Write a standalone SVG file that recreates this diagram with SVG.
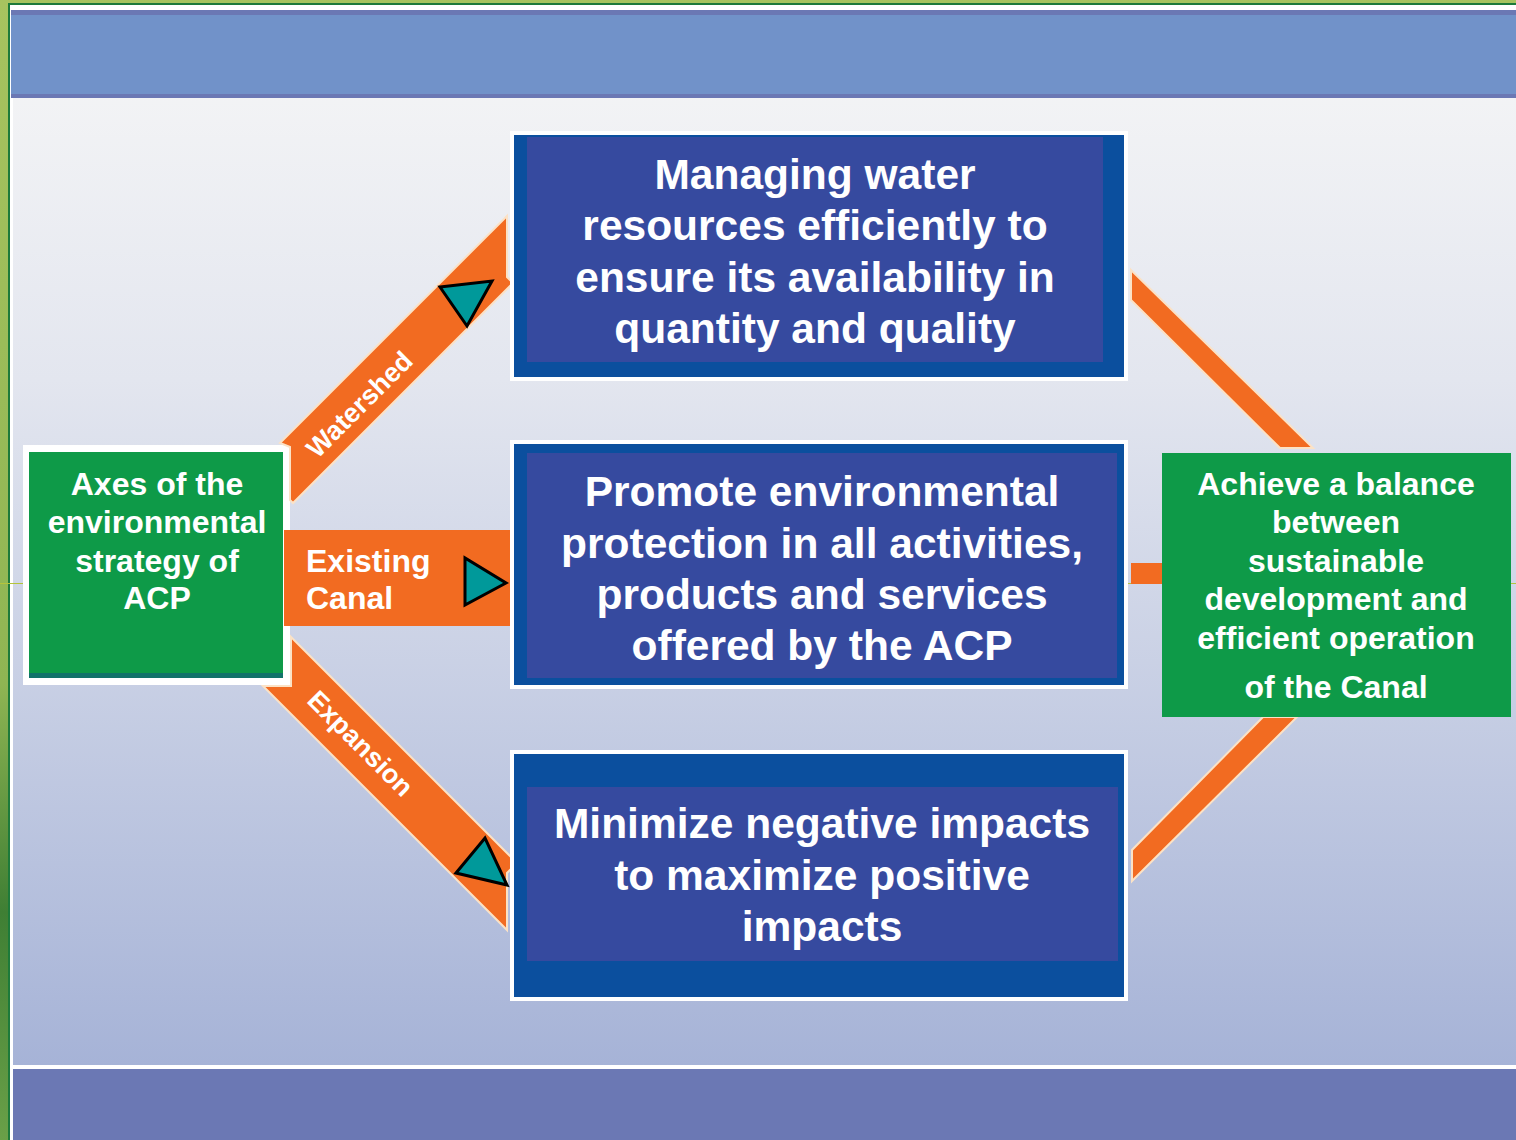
<svg xmlns="http://www.w3.org/2000/svg" width="1516" height="1140" viewBox="0 0 1516 1140">
<defs>
<linearGradient id="bg" x1="0" y1="0" x2="0" y2="1">
<stop offset="0" stop-color="#f7f7f7"/>
<stop offset="0.35" stop-color="#e3e6ef"/>
<stop offset="1" stop-color="#a6b3d7"/>
</linearGradient>
<linearGradient id="strip" x1="0" y1="0" x2="0" y2="1">
<stop offset="0" stop-color="#a7c35f"/>
<stop offset="0.6" stop-color="#8fb553"/>
<stop offset="0.8" stop-color="#3f7f34"/>
<stop offset="1" stop-color="#6aa048"/>
</linearGradient>
<style>
.band{fill:#f26b21;stroke:#fbe2c6;stroke-width:2}
.tri{fill:#00999a;stroke:#000;stroke-width:3;stroke-linejoin:miter}
.outer{fill:#0b4f9e;stroke:#ffffff;stroke-width:4}
.inner{fill:#364a9f}
.green{fill:#0e9a48}
.t{font-family:"Liberation Sans",Arial,sans-serif;font-weight:bold;fill:#ffffff}
.big{font-size:42.5px;text-anchor:middle}
.mid{font-size:32px;text-anchor:middle}
</style>
</defs>
<!-- background -->
<rect x="0" y="0" width="1516" height="1140" fill="url(#strip)"/>
<rect x="8" y="3" width="1508" height="1137" fill="#1d7a3a"/>
<rect x="10" y="5" width="1506" height="1135" fill="#ffffff"/>
<rect x="13" y="10" width="1503" height="1055" fill="url(#bg)"/>
<rect x="11" y="10" width="1505" height="88" fill="#6b78b4"/>
<rect x="11" y="15" width="1505" height="79" fill="#7192c9"/>
<rect x="13" y="1065" width="1503" height="5" fill="#ffffff"/>
<rect x="13" y="1069" width="1503" height="71" fill="#6b78b4"/>
<line x1="0" y1="583.5" x2="1516" y2="583.5" stroke="#b5c43a" stroke-width="1.2"/>

<g id="node-axes">
<rect x="25" y="447" width="263" height="236" fill="#ffffff" stroke="#ffffff" stroke-width="4"/>
<rect x="29" y="452" width="254" height="226" fill="#11736a"/>
<rect class="green" x="29" y="452" width="254" height="221"/>
<text class="t mid" x="157" y="495">Axes of the</text>
<text class="t mid" x="157" y="533">environmental</text>
<text class="t mid" x="157" y="572">strategy of</text>
<text class="t mid" x="157" y="609">ACP</text>
</g>

<g id="connectors">
<polygon class="band" points="280,443 507,216 507,277 513,283 293,503 290,500 290,447"/>
<polygon class="band" points="291,637 517,863 507,873 507,930 263,686 291,686"/>
<rect x="284" y="530" width="229" height="96" fill="#f26b21"/>
<polygon class="band" points="1131,270 1313,448 1280,448 1131,300"/>
<rect x="1131" y="563" width="31" height="21" fill="#f26b21"/>
<polygon class="band" points="1263,717 1297,717 1132,881 1132,850"/>
<polygon class="tri" points="440,287 492,281 467,326"/>
<polygon class="tri" points="465,558 465,605 506,583"/>
<polygon class="tri" points="456,873 485,838 507,885"/>
<text class="t" font-size="27" text-anchor="middle" transform="translate(366,411) rotate(-45)">Watershed</text>
<text class="t" font-size="27" text-anchor="middle" transform="translate(354,750) rotate(45)">Expansion</text>
<text class="t" font-size="32" x="306" y="572">Existing</text>
<text class="t" font-size="32" x="306" y="609">Canal</text>
</g>

<g id="node-water">
<rect class="outer" x="512" y="133" width="614" height="246"/>
<rect class="inner" x="527" y="137" width="576" height="225"/>
<text class="t big" x="815" y="189">Managing water</text>
<text class="t big" x="815" y="240">resources efficiently to</text>
<text class="t big" x="815" y="292">ensure its availability in</text>
<text class="t big" x="815" y="343">quantity and quality</text>
</g>

<g id="node-protect">
<rect class="outer" x="512" y="442" width="614" height="245"/>
<rect class="inner" x="527" y="453" width="590" height="225"/>
<text class="t big" x="822" y="506">Promote environmental</text>
<text class="t big" x="822" y="558">protection in all activities,</text>
<text class="t big" x="822" y="609">products and services</text>
<text class="t big" x="822" y="660">offered by the ACP</text>
</g>

<g id="node-minimize">
<rect class="outer" x="512" y="752" width="614" height="247"/>
<rect class="inner" x="527" y="787" width="591" height="174"/>
<text class="t big" x="822" y="838">Minimize negative impacts</text>
<text class="t big" x="822" y="890">to maximize positive</text>
<text class="t big" x="822" y="941">impacts</text>
</g>

<g id="node-balance">
<rect class="green" x="1162" y="453" width="349" height="264"/>
<text class="t mid" x="1336" y="495">Achieve a balance</text>
<text class="t mid" x="1336" y="533">between</text>
<text class="t mid" x="1336" y="572">sustainable</text>
<text class="t mid" x="1336" y="610">development and</text>
<text class="t mid" x="1336" y="649">efficient operation</text>
<text class="t mid" x="1336" y="698">of the Canal</text>
</g>
</svg>
